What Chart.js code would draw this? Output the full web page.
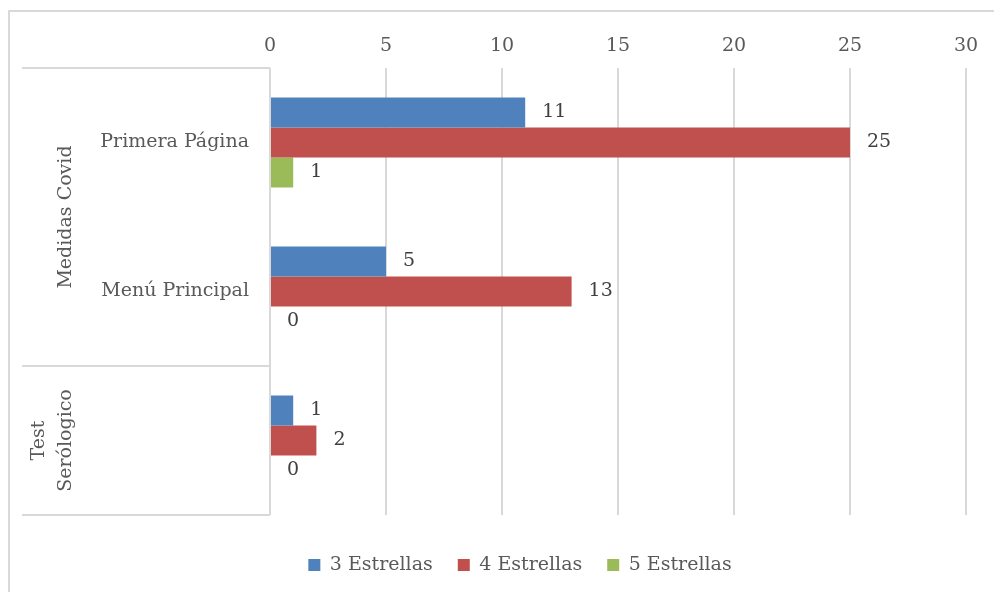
<!DOCTYPE html>
<html>
<head>
<meta charset="utf-8">
<script src="https://cdn.jsdelivr.net/npm/chart.js@4"></script>
<style>
  html, body { margin: 0; padding: 0; background: #fff; overflow: hidden; }
  #frame { position: absolute; left: 8px; top: 10px; width: 1100px; height: 700px; border: 2px solid #d9d9d9; }
  #wrap { position: absolute; left: 0; top: 0; width: 1040px; height: 592px; }
</style>
</head>
<body>
<div id="frame"></div>
<div id="wrap"><canvas id="chart"></canvas></div>
<script>
// categories (inner level) and the groups they belong to (outer level)
const subCategories = ['Primera Página', 'Menú Principal', ''];
const groupNames = [['Medidas Covid'], ['Test', 'Serólogico']];
const groupStart = [0, 2];
const groupEnd = [1, 2];

// series
const seriesNames = ['3 Estrellas', '4 Estrellas', '5 Estrellas'];
const tres = [11, 5, 1];
const cuatro = [25, 13, 2];
const cinco = [1, 0, 0];

const xTicks = [0, 5, 10, 15, 20, 25, 30];

Chart.defaults.font.family = "'DejaVu Serif', serif";
Chart.defaults.font.size = 19;

// group labels, separator lines and value labels
const extras = {
  id: 'extras',
  afterDatasetsDraw(chart) {
    const ctx = chart.ctx;
    const ys = chart.scales.y;
    const area = chart.chartArea;
    const band = ys.getPixelForValue(1) - ys.getPixelForValue(0);

    ctx.save();
    ctx.strokeStyle = '#d9d9d9';
    ctx.lineWidth = 2;
    const edges = [ys.getPixelForValue(0) - band / 2];
    groupEnd.forEach(e => edges.push(ys.getPixelForValue(e) + band / 2));
    edges.forEach(y => {
      ctx.beginPath();
      ctx.moveTo(22, y);
      ctx.lineTo(area.left, y);
      ctx.stroke();
    });

    ctx.fillStyle = '#595959';
    ctx.textAlign = 'center';
    ctx.textBaseline = 'middle';
    ctx.font = "19px 'DejaVu Serif', serif";
    groupNames.forEach((lines, g) => {
      const yc = (ys.getPixelForValue(groupStart[g]) + ys.getPixelForValue(groupEnd[g])) / 2;
      lines.forEach((line, i) => {
        const x = 66 - (lines.length - 1 - i) * 27;
        ctx.save();
        ctx.translate(x, yc);
        ctx.rotate(-Math.PI / 2);
        ctx.fillText(line, 0, 0);
        ctx.restore();
      });
    });

    ctx.fillStyle = '#404040';
    ctx.textAlign = 'left';
    chart.data.datasets.forEach((ds, i) => {
      chart.getDatasetMeta(i).data.forEach((bar, j) => {
        ctx.fillText(String(ds.data[j]), bar.x + 17, bar.y);
      });
    });
    ctx.restore();
  }
};

new Chart(document.getElementById('chart'), {
  type: 'bar',
  data: {
    labels: subCategories,
    datasets: [
      { label: seriesNames[0], data: tres, backgroundColor: '#4f81bd' },
      { label: seriesNames[1], data: cuatro, backgroundColor: '#c0504d' },
      { label: seriesNames[2], data: cinco, backgroundColor: '#9bbb59' }
    ]
  },
  options: {
    indexAxis: 'y',
    responsive: true,
    maintainAspectRatio: false,
    animation: false,
    datasets: { bar: { categoryPercentage: 0.604, barPercentage: 1 } },
    layout: { padding: { left: 0, right: 0, top: 0, bottom: 7.5 } },
    scales: {
      x: {
        position: 'top',
        min: 0,
        max: 30,
        afterBuildTicks: s => { s.ticks = xTicks.map(v => ({ value: v })); },
        afterFit: s => { s.height = 68; },
        grid: { color: '#d9d9d9', lineWidth: 2, drawTicks: false },
        border: { display: false },
        ticks: { color: '#595959', padding: 11 }
      },
      y: {
        afterFit: s => { s.width = 270; },
        grid: { display: false, drawTicks: false },
        border: { display: false },
        ticks: { color: '#595959', padding: 21 }
      },
      yr: {
        position: 'right',
        type: 'linear',
        afterFit: s => { s.width = 74; },
        grid: { display: false, drawTicks: false },
        border: { display: false },
        ticks: { display: false }
      }
    },
    plugins: {
      tooltip: { enabled: false },
      legend: {
        position: 'bottom',
        title: { display: true, text: ' ', font: { size: 1 }, padding: { top: 14.3, bottom: 0 } },
        labels: { boxWidth: 12, boxHeight: 12, padding: 25, color: '#595959' }
      }
    }
  },
  plugins: [extras]
});
</script>
</body>
</html>
